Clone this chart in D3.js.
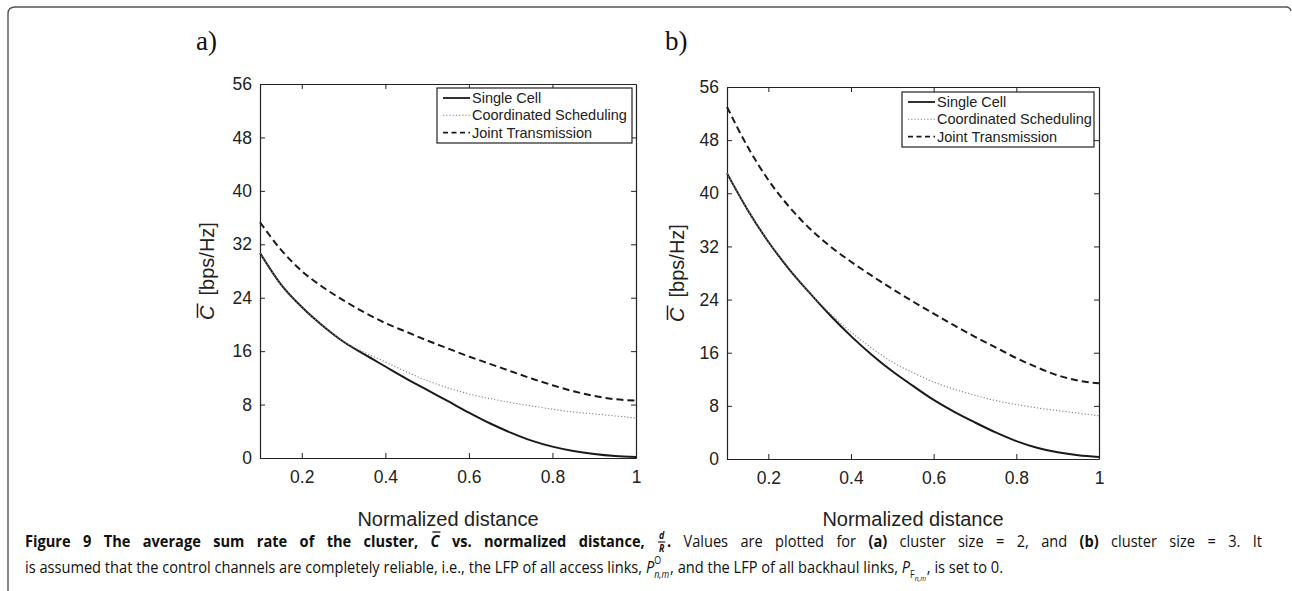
<!DOCTYPE html>
<html>
<head>
<meta charset="utf-8">
<script src="https://cdn.jsdelivr.net/npm/d3@7/dist/d3.min.js"></script>
<style>
  html, body { margin: 0; padding: 0; background: #fff; }
  svg { display: block; }
  text { white-space: pre; }
</style>
</head>
<body>
<svg id="chart" width="1292" height="591"></svg>
<script>
// ---------------- DATA ----------------
const distances = [0.1, 0.15, 0.2, 0.25, 0.3, 0.35, 0.4, 0.45, 0.5, 0.55, 0.6, 0.65, 0.7, 0.75, 0.8, 0.85, 0.9, 0.95, 1.0];

// panel a) cluster size = 2
const singleCellA   = [30.7, 26.0, 22.6, 19.8, 17.4, 15.5, 13.7, 11.9, 10.2, 8.5, 6.8, 5.2, 3.8, 2.6, 1.7, 1.05, 0.6, 0.3, 0.15];
const coordSchedA   = [30.7, 26.0, 22.6, 19.8, 17.45, 15.8, 14.4, 12.9, 11.6, 10.5, 9.6, 8.9, 8.3, 7.8, 7.3, 6.9, 6.6, 6.3, 6.0];
const jointTransA   = [35.3, 31.2, 28.0, 25.6, 23.6, 21.8, 20.2, 18.9, 17.6, 16.4, 15.2, 14.1, 13.0, 11.9, 10.9, 10.0, 9.3, 8.8, 8.6];

// panel b) cluster size = 3
const singleCellB   = [43.0, 37.5, 32.7, 28.6, 25.0, 21.6, 18.5, 15.7, 13.2, 11.0, 8.9, 7.1, 5.5, 4.0, 2.7, 1.7, 1.0, 0.55, 0.3];
const coordSchedB   = [43.0, 37.5, 32.7, 28.6, 25.0, 21.9, 19.1, 16.7, 14.6, 13.0, 11.6, 10.5, 9.6, 8.8, 8.2, 7.7, 7.3, 6.9, 6.5];
const jointTransB   = [53.0, 47.0, 42.0, 38.0, 34.7, 32.0, 29.7, 27.6, 25.6, 23.7, 21.9, 20.1, 18.4, 16.8, 15.2, 13.8, 12.6, 11.8, 11.4];

const seriesNames = ["Single Cell", "Coordinated Scheduling", "Joint Transmission"];
const xTicks = [0.2, 0.4, 0.6, 0.8, 1];
const yTicks = [0, 8, 16, 24, 32, 40, 48, 56];
const xDomain = [0.1, 1];
const yDomain = [0, 56];
const xLabel = "Normalized distance";
const panelLabels = ["a)", "b)"];

// ---------------- LAYOUT ----------------
const svg = d3.select("#chart");
const SANS = "'Liberation Sans', Arial, Helvetica, sans-serif";
const INK = "#222";

svg.append("path")
  .attr("d", "M8,591 L8,14 Q8,7 15,7 L1286,7 Q1290,7 1291,11")
  .attr("fill", "none").attr("stroke", "#555").attr("stroke-width", 1.4);

const panels = [
  { box: { l: 260, t: 84, r: 636, b: 458 }, label: panelLabels[0], labelX: 196, ylabX: 207,
    legend: { l: 437, t: 88, r: 632, b: 143 },
    data: [singleCellA, coordSchedA, jointTransA] },
  { box: { l: 727, t: 87, r: 1099, b: 459 }, label: panelLabels[1], labelX: 665, ylabX: 677,
    legend: { l: 902, t: 92, r: 1094, b: 147 },
    data: [singleCellB, coordSchedB, jointTransB] }
];

const styles = [
  { color: "#1a1a1a", width: 2.0, dash: null },
  { color: "#808080", width: 1.1, dash: "1.2,2" },
  { color: "#1a1a1a", width: 2.0, dash: "7,4" }
];

panels.forEach(p => {
  const B = p.box;
  const x = d3.scaleLinear().domain(xDomain).range([B.l, B.r]);
  const y = d3.scaleLinear().domain(yDomain).range([B.b, B.t]);
  const g = svg.append("g");

  g.append("text").attr("x", p.labelX).attr("y", 50)
    .style("font-family", "'Liberation Serif', 'Times New Roman', serif")
    .style("font-size", "27px").style("fill", "#111").text(p.label);

  const fmt = d => d === 1 ? "1" : d3.format(".1f")(d);
  const axB = g.append("g").attr("transform", `translate(0,${B.b})`)
    .call(d3.axisBottom(x).tickValues(xTicks).tickSizeInner(-5).tickSizeOuter(0).tickPadding(13).tickFormat(fmt));
  const axT = g.append("g").attr("transform", `translate(0,${B.t})`)
    .call(d3.axisTop(x).tickValues(xTicks).tickSizeInner(-5).tickSizeOuter(0).tickFormat(""));
  const axL = g.append("g").attr("transform", `translate(${B.l},0)`)
    .call(d3.axisLeft(y).tickValues(yTicks).tickSizeInner(-5).tickSizeOuter(0).tickPadding(8));
  const axR = g.append("g").attr("transform", `translate(${B.r},0)`)
    .call(d3.axisRight(y).tickValues(yTicks).tickSizeInner(-5).tickSizeOuter(0).tickFormat(""));
  [axB, axT, axL, axR].forEach(a => {
    a.select(".domain").attr("stroke", INK).attr("stroke-width", 1.2);
    a.selectAll(".tick line").attr("stroke", INK).attr("stroke-width", 1);
    a.selectAll("text").style("font-family", SANS).style("font-size", "17.5px").attr("fill", INK);
  });
  axT.selectAll(".tick").filter(d => d === 1).remove();

  p.data.forEach((vals, i) => {
    const line = d3.line().x((d, k) => x(distances[k])).y(d => y(d)).curve(d3.curveMonotoneX);
    g.append("path").datum(vals).attr("d", line)
      .attr("fill", "none").attr("stroke", styles[i].color)
      .attr("stroke-width", styles[i].width)
      .attr("stroke-dasharray", styles[i].dash);
  });

  const cy = (B.t + B.b) / 2;
  const yl = g.append("g").attr("transform", `translate(${p.ylabX},${cy}) rotate(-90)`);
  const ylt = yl.append("text").attr("text-anchor", "middle").attr("y", 7)
    .style("font-family", SANS).style("font-size", "20px").attr("fill", INK);
  ylt.append("tspan").style("font-style", "italic").text("C");
  ylt.append("tspan").attr("dx", 10).text("[bps/Hz]");
  const tw = ylt.node().getComputedTextLength() + 10;
  const cw = ylt.node().getSubStringLength(0, 1);
  yl.append("line").attr("x1", -tw / 2 + 2).attr("x2", -tw / 2 + cw + 2)
    .attr("y1", -9.5).attr("y2", -9.5).attr("stroke", INK).attr("stroke-width", 1.5);

  g.append("text").attr("x", (B.l + B.r) / 2).attr("y", 526).attr("text-anchor", "middle")
    .style("font-family", SANS).style("font-size", "20px").attr("fill", INK).text(xLabel);

  const L = p.legend;
  g.append("rect").attr("x", L.l).attr("y", L.t).attr("width", L.r - L.l).attr("height", L.b - L.t)
    .attr("fill", "#fff").attr("stroke", INK).attr("stroke-width", 1.2);
  seriesNames.forEach((name, i) => {
    const ry = L.t + 10 + i * 17.3;
    g.append("line").attr("x1", L.l + 6).attr("x2", L.l + 33).attr("y1", ry).attr("y2", ry)
      .attr("stroke", styles[i].color).attr("stroke-width", i === 1 ? 1.1 : 1.8)
      .attr("stroke-dasharray", i === 2 ? "5,3.5" : styles[i].dash);
    g.append("text").attr("x", L.l + 35).attr("y", ry + 5)
      .style("font-family", SANS).style("font-size", "14.5px").attr("fill", INK).text(name);
  });
});

// ---------------- CAPTION ----------------
const CAP = "'Open Sans', 'Noto Sans', sans-serif";
const CAPSIZE = 16.5;
const SMALL = 10;
const measureG = svg.append("g").attr("opacity", 0);
function spaceWidth(bold) {
  const m = t => {
    const e = measureG.append("text").style("font-family", CAP).style("font-size", CAPSIZE + "px")
      .style("font-weight", bold ? 700 : 400).text(t);
    const w = e.node().getComputedTextLength(); e.remove(); return w;
  };
  return m("x x") - m("xx");
}
const SPW = { n: spaceWidth(false), b: spaceWidth(true) };

function runLine(g, y, segs, extra) {
  let xx = 0, nSpaces = 0;
  segs.forEach(s => {
    const size = s.s || CAPSIZE;
    if (s.frac) {
      const a = g.append("text").attr("y", y - 8).style("font-family", CAP).style("font-size", SMALL + "px")
        .style("font-weight", 700).style("font-style", "italic").attr("fill", "#111").text(s.frac[0]);
      const b = g.append("text").attr("y", y + 5).style("font-family", CAP).style("font-size", SMALL + "px")
        .style("font-weight", 700).style("font-style", "italic").attr("fill", "#111").text(s.frac[1]);
      const wa = a.node().getComputedTextLength(), wb = b.node().getComputedTextLength();
      const w = Math.max(wa, wb) + 2;
      a.attr("x", xx + 1 + (w - wa) / 2); b.attr("x", xx + 1 + (w - wb) / 2);
      g.append("line").attr("x1", xx + 1).attr("x2", xx + 1 + w).attr("y1", y - 5).attr("y2", y - 5)
        .attr("stroke", "#111").attr("stroke-width", 1.1);
      xx += w + 3;
      return;
    }
    if (s.ss) {
      const t = g.append("text").attr("x", xx).attr("y", y).style("font-family", CAP).style("font-size", size + "px")
        .style("font-style", "italic").attr("fill", "#111").text(s.ss);
      const wb = t.node().getComputedTextLength();
      let w2 = 0;
      if (s.sup) {
        const u = g.append("text").attr("x", xx + wb).attr("y", y - 8.5).style("font-family", CAP).style("font-size", SMALL + "px")
          .attr("fill", "#111").text(s.sup);
        w2 = Math.max(w2, u.node().getComputedTextLength());
      }
      if (s.sub) {
        const u = g.append("text").attr("x", xx + wb).attr("y", y + 5.5).style("font-family", CAP).style("font-size", SMALL + "px")
          .style("font-style", s.subItalic ? "italic" : "normal").attr("fill", "#111").text(s.sub);
        let w3 = u.node().getComputedTextLength();
        if (s.subsub) {
          const v = g.append("text").attr("x", xx + wb + w3).attr("y", y + 8).style("font-family", CAP).style("font-size", "7.5px")
            .style("font-style", "italic").attr("fill", "#111").text(s.subsub);
          w3 += v.node().getComputedTextLength();
        }
        w2 = Math.max(w2, w3);
      }
      xx += wb + w2 + 1;
      return;
    }
    const parts = s.t.split(/( )/);
    parts.forEach(part => {
      if (part === "") return;
      if (part === " ") { xx += (s.b ? SPW.b : SPW.n) + extra; nSpaces++; return; }
      const t = g.append("text").attr("x", xx).attr("y", y)
        .style("font-family", CAP).style("font-size", size + "px")
        .style("font-weight", s.b ? 700 : 400).style("font-style", s.i ? "italic" : "normal")
        .attr("fill", "#111").text(part);
      const w = t.node().getComputedTextLength();
      if (s.over) {
        g.append("line").attr("x1", xx + 2).attr("x2", xx + w + 1).attr("y1", y - 15).attr("y2", y - 15)
          .attr("stroke", "#111").attr("stroke-width", 1.3);
      }
      xx += w;
    });
  });
  return { w: xx, n: nSpaces };
}

const caption1 = [
  { t: "Figure 9 The average sum rate of the cluster, ", b: true },
  { t: "C", b: true, i: true, over: true },
  { t: " vs. normalized distance, ", b: true },
  { frac: ["d", "R"] },
  { t: ".", b: true },
  { t: " Values are plotted for " },
  { t: "(a)", b: true },
  { t: " cluster size = 2, and " },
  { t: "(b)", b: true },
  { t: " cluster size = 3. It" }
];
const caption2 = [
  { t: "is assumed that the control channels are completely reliable, i.e., the LFP of all access links, " },
  { ss: "P", sup: "O", sub: "n,m", subItalic: true },
  { t: ", and the LFP of all backhaul links, " },
  { ss: "P", sub: "F", subsub: "n,m" },
  { t: ", is set to 0." }
];

const capX = 25, line1Right = 1262, line2Right = 1003;
const l2 = svg.append("g");
const r2 = runLine(l2, 573, caption2, 0);
const k = (line2Right - capX) / r2.w;
l2.attr("transform", `translate(${capX},0) scale(${k},1)`);
const tmp = measureG.append("g");
const r1 = runLine(tmp, 547, caption1, 0);
tmp.remove();
const extra = Math.max(0, ((line1Right - capX) / k - r1.w) / r1.n);
const l1 = svg.append("g");
runLine(l1, 547, caption1, extra);
l1.attr("transform", `translate(${capX},0) scale(${k},1)`);
</script>
</body>
</html>
